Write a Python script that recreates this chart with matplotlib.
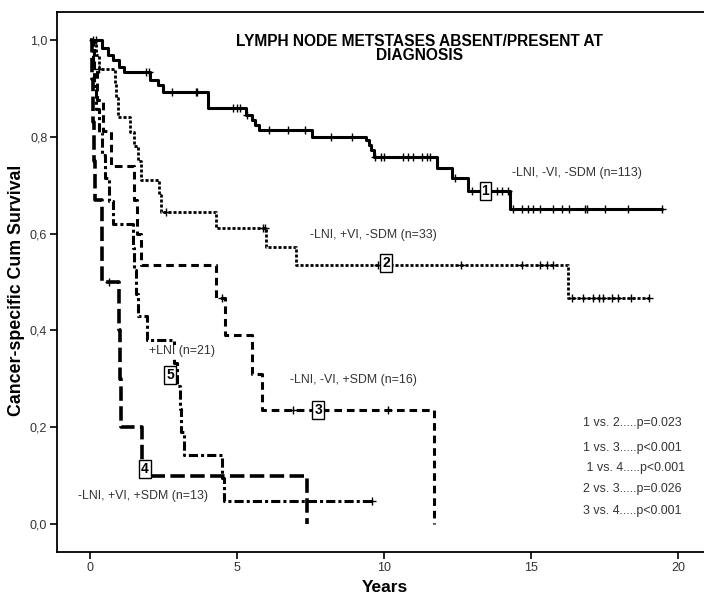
import numpy as np
import matplotlib
matplotlib.use("Agg")
import matplotlib.pyplot as plt

plt.rcParams['font.family'] = ['Liberation Sans', 'DejaVu Sans']

# curve 1: -LNI, -VI, -SDM (n=113)
t1 = [0, 0.4, 0.6, 0.8, 1.0, 1.15, 2.05, 2.3, 2.5, 4.0, 5.3, 5.5, 5.6, 5.75, 7.55, 9.4, 9.5, 9.55, 9.65, 11.8, 12.3, 12.85, 14.3]
s1 = [1.0, 0.983, 0.969, 0.959, 0.944, 0.934, 0.917, 0.907, 0.893, 0.86, 0.845, 0.835, 0.825, 0.814, 0.80, 0.793, 0.783, 0.773, 0.758, 0.735, 0.715, 0.688, 0.651]
c1 = [0.1, 0.2, 1.9, 2.0, 2.8, 3.6, 3.65, 4.86, 5.0, 5.1, 5.35, 6.1, 6.75, 7.3, 8.2, 8.9, 9.7, 9.9, 10.0,
      10.65, 10.8, 11.0, 11.3, 11.45, 11.55, 12.4, 13.0, 13.85, 14.0, 14.2, 14.4, 14.7, 14.9, 15.07,
      15.3, 15.75, 16.05, 16.3, 16.85, 16.9, 17.5, 18.3, 19.45]
end1 = 19.5

# curve 2: -LNI, +VI, -SDM (n=33)
t2 = [0, 0.2, 0.3, 0.85, 0.9, 0.95, 1.35, 1.5, 1.65, 1.75, 2.35, 2.4, 4.3, 6.0, 7.0, 16.25]
s2 = [1.0, 0.97, 0.94, 0.91, 0.88, 0.84, 0.81, 0.78, 0.75, 0.71, 0.68, 0.645, 0.612, 0.572, 0.535, 0.467]
c2 = [0.3, 2.6, 5.9, 5.95, 9.8, 12.6, 14.7, 15.3, 15.55, 15.75, 16.4, 16.75, 17.1, 17.3, 17.45,
      17.75, 17.95, 18.4, 19.0]
end2 = 19.0

# curve 3: -LNI, -VI, +SDM (n=16)
t3 = [0, 0.15, 0.25, 0.45, 0.7, 1.5, 1.6, 1.75, 4.3, 4.6, 5.5, 5.85, 11.7]
s3 = [1.0, 0.9375, 0.875, 0.8125, 0.74, 0.67, 0.60, 0.535, 0.467, 0.39, 0.31, 0.235, 0.0]
c3 = [4.5, 6.9, 10.15]
end3 = 11.7

# curve 4: -LNI, +VI, +SDM (n=13)
t4 = [0, 0.08, 0.12, 0.15, 0.18, 0.4, 1.0, 1.02, 1.04, 1.77, 7.38]
s4 = [1.0, 0.92, 0.83, 0.75, 0.67, 0.50, 0.40, 0.30, 0.20, 0.10, 0.0]
c4 = [0.65]
end4 = 7.38

# curve 5: +LNI (n=21)
t5 = [0, 0.1, 0.15, 0.2, 0.3, 0.4, 0.5, 0.65, 0.8, 1.45, 1.5, 1.55, 1.65, 1.95, 2.85, 2.95, 3.05,
      3.1, 3.2, 4.5, 4.55]
s5 = [1.0, 0.952, 0.905, 0.857, 0.81, 0.762, 0.714, 0.667, 0.619, 0.571, 0.524, 0.476, 0.429,
      0.381, 0.333, 0.286, 0.238, 0.19, 0.143, 0.095, 0.048]
c5 = [9.6]
end5 = 9.6

group_labels = ["-LNI, -VI, -SDM (n=113)", "-LNI, +VI, -SDM (n=33)", "-LNI, -VI, +SDM (n=16)",
                "-LNI, +VI, +SDM (n=13)", "+LNI (n=21)"]
label_pos = [(14.35, 0.725), (7.48, 0.597), (6.8, 0.298), (-0.4, 0.058), (2.0, 0.357)]
box_pos = [(13.45, 0.688), (10.07, 0.539), (7.76, 0.235), (1.87, 0.114), (2.73, 0.308)]

comparisons = ["1 vs. 2.....p=0.023", "1 vs. 3.....p<0.001", " 1 vs. 4.....p<0.001",
               "2 vs. 3.....p=0.026", "3 vs. 4.....p<0.001"]
comp_y = [0.209, 0.157, 0.116, 0.072, 0.027]

curves = [(t1, s1, c1, end1), (t2, s2, c2, end2), (t3, s3, c3, end3), (t4, s4, c4, end4), (t5, s5, c5, end5)]
styles = [dict(lw=2.2, ls='-'),
          dict(lw=2.0, dashes=(1.1, 0.7)),
          dict(lw=2.2, dashes=(2.5, 1.6)),
          dict(lw=2.6, dashes=(4.0, 1.5)),
          dict(lw=2.2, dashes=(3.0, 1.0, 1.0, 1.0))]

fig = plt.figure(figsize=(7.04, 5.97), dpi=100)
ax = fig.add_axes([0.081, 0.0754, 0.919, 0.9046])

for (t, s, c, end), st in zip(curves, styles):
    t = np.array(t, dtype=float)
    s = np.array(s, dtype=float)
    tt = np.append(t, end)
    ss = np.append(s, s[-1])
    ax.step(tt, ss, where='post', color='black', solid_capstyle='butt', dash_capstyle='butt', **st)
    c = np.array(c, dtype=float)
    idx = np.searchsorted(t, c, side='right') - 1
    ax.plot(c, s[idx], '+', color='black', ms=6, mew=1.0)

txt_color = '#333333'
for lab, (x, y) in zip(group_labels, label_pos):
    ax.text(x, y, lab, fontsize=8.9, color=txt_color, va='center', ha='left', zorder=4,
            bbox=dict(boxstyle='square,pad=0.05', fc='white', ec='none'))

for i, (x, y) in enumerate(box_pos):
    ax.text(x, y, str(i + 1), fontsize=10, fontweight='bold', ha='center', va='center',
            bbox=dict(boxstyle='square,pad=0.15', fc='white', ec='black', lw=1.0), zorder=5)

for lab, y in zip(comparisons, comp_y):
    ax.text(16.77, y, lab, fontsize=8.9, color=txt_color, va='center', ha='left')

ax.text(11.2, 0.982, "LYMPH NODE METSTASES ABSENT/PRESENT AT\nDIAGNOSIS", fontsize=11.2,
        fontweight='bold', ha='center', va='center', linespacing=0.95)

ax.set_xlim(-1.12, 20.88)
ax.set_ylim(-0.058, 1.058)
ax.set_xticks([0, 5, 10, 15, 20])
ax.set_yticks([0, 0.2, 0.4, 0.6, 0.8, 1.0])
ax.set_yticklabels(["0,0", "0,2", "0,4", "0,6", "0,8", "1,0"])
ax.tick_params(direction='out', length=5, width=1.2, labelsize=9, labelcolor=txt_color, pad=2)
ax.spines['right'].set_visible(False)
for sp in ['left', 'top', 'bottom']:
    ax.spines[sp].set_linewidth(1.3)

fig.text(385 / 704, 1 - 587 / 597, "Years", fontsize=12.5, fontweight='bold', ha='center', va='center')
fig.text(17 / 704, 1 - 290 / 597, "Cancer-specific Cum Survival", fontsize=12.8, fontweight='bold',
         ha='center', va='center', rotation=90)

fig.savefig("out.png", dpi=100)
